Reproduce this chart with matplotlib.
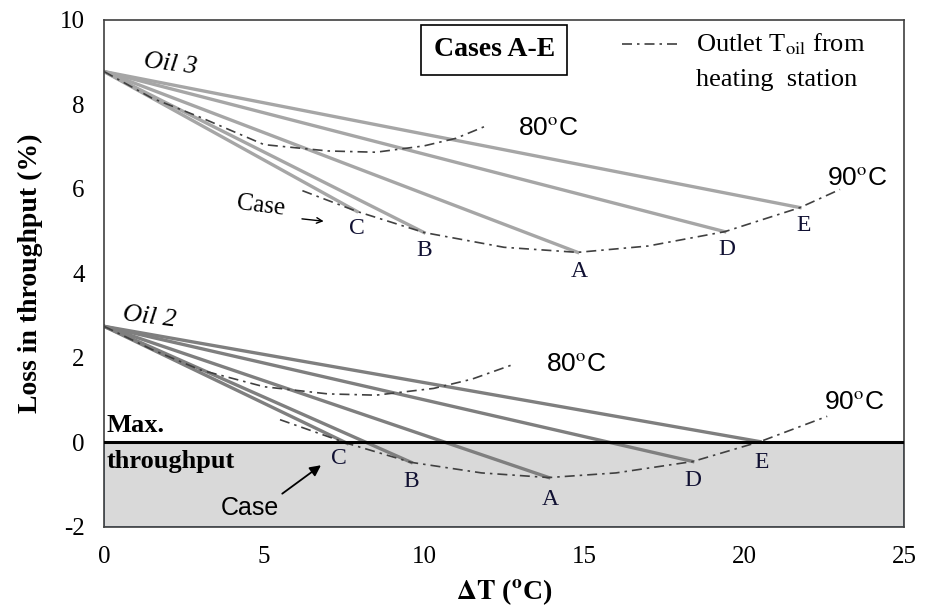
import matplotlib
matplotlib.use("Agg")
import matplotlib.pyplot as plt
import matplotlib.patches as patches

plt.rcParams['font.family'] = ['Liberation Serif', 'DejaVu Serif']
plt.rcParams['mathtext.fontset'] = 'stix'
plt.rcParams['axes.unicode_minus'] = False

# Data
cases = ["A", "B", "C", "D", "E"]

oil3_start = 8.78
oil3_end_x = [14.8, 10.0, 7.9, 19.4, 21.75]
oil3_end_y = [4.50, 4.97, 5.47, 4.99, 5.56]

oil2_start = 2.75
oil2_end_x = [13.9, 9.6, 7.6, 18.4, 20.5]
oil2_end_y = [-0.83, -0.47, -0.02, -0.45, 0.02]

# outlet temperature curves (dash-dot)
oil3_80_x = [0, 1.5, 3, 5, 7, 8.5, 10, 11, 11.9]
oil3_80_y = [8.78, 8.15, 7.7, 7.05, 6.9, 6.87, 7.02, 7.2, 7.48]
oil3_90_x = [6.2, 7.9, 10.0, 12.5, 14.8, 17, 19.4, 21.75, 23]
oil3_90_y = [5.96, 5.47, 4.97, 4.62, 4.50, 4.65, 4.99, 5.56, 5.99]

oil2_80_x = [0, 1.5, 3, 5, 7, 8.5, 10.3, 11.5, 12.8]
oil2_80_y = [2.75, 2.2, 1.72, 1.32, 1.15, 1.12, 1.28, 1.5, 1.85]
oil2_90_x = [5.5, 7.6, 9.6, 11.8, 13.9, 16, 18.4, 20.5, 22.6]
oil2_90_y = [0.54, -0.02, -0.47, -0.72, -0.83, -0.72, -0.45, 0.02, 0.62]

x_ticks = [0, 5, 10, 15, 20, 25]
y_ticks = [-2, 0, 2, 4, 6, 8, 10]

fig = plt.figure(figsize=(9.27, 6.13), dpi=100)
ax = fig.add_axes([0.1122, 0.1403, 0.8630, 0.8271])
ax.set_xlim(0, 25)
ax.set_ylim(-2, 10)

# shaded region below max throughput
box = patches.Rectangle((0, -2), 25, 2, facecolor='#d9d9d9', edgecolor='#5a78a8',
                        linewidth=1.2, zorder=1)
ax.add_patch(box)
ax.axhline(0, color='black', linewidth=2.2, zorder=4)

# case lines
for xe, ye in zip(oil3_end_x, oil3_end_y):
    ax.plot([0, xe], [oil3_start, ye], color='#a6a6a6', linewidth=2.4, zorder=2)
for xe, ye in zip(oil2_end_x, oil2_end_y):
    ax.plot([0, xe], [oil2_start, ye], color='#7f7f7f', linewidth=2.4, zorder=2)

dd = dict(color='#404040', linestyle=(0, (6, 3, 1.5, 3)), linewidth=1.2, zorder=3)
ax.plot(oil3_80_x, oil3_80_y, **dd)
ax.plot(oil3_90_x, oil3_90_y, **dd)
ax.plot(oil2_80_x, oil2_80_y, **dd)
ax.plot(oil2_90_x, oil2_90_y, **dd)

# case letters
off3 = {"A": (0.05, -0.45), "B": (0.0, -0.42), "C": (0.0, -0.4), "D": (0.05, -0.42), "E": (0.1, -0.42)}
for c, xe, ye in zip(cases, oil3_end_x, oil3_end_y):
    dx, dy = off3[c]
    ax.text(xe + dx, ye + dy, c, ha='center', va='center', fontsize=17, color='#111133', zorder=5)
off2 = {"A": (0.05, -0.52), "B": (0.0, -0.45), "C": (-0.25, -0.35), "D": (0.0, -0.45), "E": (0.05, -0.5)}
for c, xe, ye in zip(cases, oil2_end_x, oil2_end_y):
    dx, dy = off2[c]
    ax.text(xe + dx, ye + dy, c, ha='center', va='center', fontsize=17, color='#111133', zorder=5)

sans = ['Liberation Sans', 'DejaVu Sans']
ax.text(1.2, 8.95, "Oil 3", style='italic', fontsize=19, rotation=-7, ha='left', va='center')
ax.text(0.55, 2.96, "Oil 2", style='italic', fontsize=19, rotation=-7, ha='left', va='center')
ax.text(12.95, 7.45, r"80$^{\rm o}$C", family=sans, fontsize=19, ha='left', va='center')
ax.text(13.8, 1.85, r"80$^{\rm o}$C", family=sans, fontsize=19, ha='left', va='center')
ax.text(22.6, 6.25, r"90$^{\rm o}$C", family=sans, fontsize=19, ha='left', va='center')
ax.text(22.5, 0.95, r"90$^{\rm o}$C", family=sans, fontsize=19, ha='left', va='center')
ax.text(4.1, 5.6, "Case", fontsize=18, rotation=-7, ha='left', va='center')
ax.annotate("", xy=(6.95, 5.23), xytext=(6.1, 5.3),
            arrowprops=dict(arrowstyle='->', color='black', lw=1.0))
ax.text(3.65, -1.55, "Case", family=sans, fontsize=18, ha='left', va='center')
ax.annotate("", xy=(6.85, -0.5), xytext=(5.5, -1.25),
            arrowprops=dict(arrowstyle='-|>', color='black', lw=1.3, mutation_scale=16))
ax.text(0.08, 0.4, "Max.", fontsize=19, fontweight='bold', ha='left', va='center')
ax.text(0.08, -0.45, "throughput", fontsize=19, fontweight='bold', ha='left', va='center')

# header box and legend entry
ax.text(12.2, 9.3, "Cases A-E", fontsize=20, fontweight='bold', ha='center', va='center',
        bbox=dict(boxstyle='square,pad=0.45', facecolor='white', edgecolor='black', linewidth=1.2))
ax.plot([16.2, 18.0], [9.42, 9.42], color='#404040', linestyle=(0, (6, 3, 1.5, 3)), linewidth=1.2)
ax.text(18.5, 9.42, r"Outlet T$_{\rm oil}$ from", fontsize=19, ha='left', va='center')
ax.text(18.5, 8.58, "heating  station", fontsize=19, ha='left', va='center')

ax.set_xticks(x_ticks)
ax.set_yticks(y_ticks)
ax.tick_params(length=0, labelsize=18)
ax.tick_params(axis='x', pad=14)
ax.tick_params(axis='y', pad=14)
ax.set_xlabel(r"$\mathbf{\Delta T}$ ($\mathbf{^{o}}$C)", fontsize=20, fontweight='bold', labelpad=6)
ax.set_ylabel("Loss in throughput (%)", fontsize=20, fontweight='bold', labelpad=12)
for s in ax.spines.values():
    s.set_color('#404040')
    s.set_linewidth(1.2)

plt.savefig("out.png", dpi=100)
